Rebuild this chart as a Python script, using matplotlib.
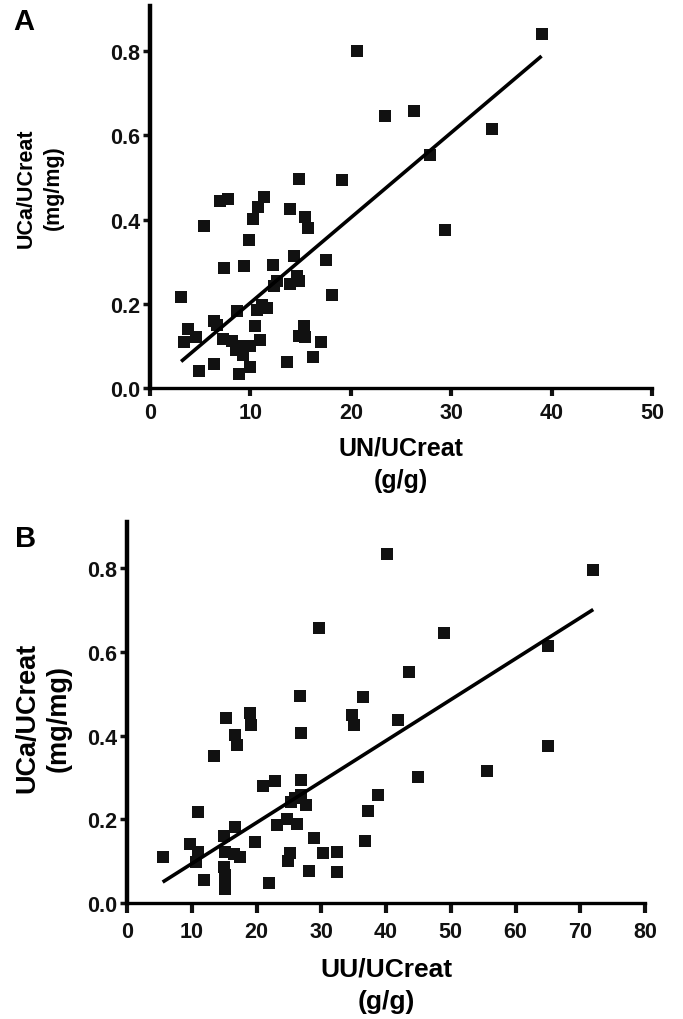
import matplotlib
matplotlib.use("Agg")
import matplotlib.pyplot as plt
from matplotlib.ticker import FormatStrFormatter, MultipleLocator

plt.rcParams['font.family'] = ['Liberation Sans', 'DejaVu Sans']
plt.rcParams['font.weight'] = 'bold'

# Panel A: UN/UCreat vs UCa/UCreat
un_ucreat = [39.0, 20.6, 23.4, 26.3, 34.1, 27.9, 29.4, 14.8, 19.1, 7.0,
             7.8, 11.4, 10.8, 10.3, 13.9, 15.4, 15.7, 5.4, 9.9, 7.4,
             9.4, 12.3, 14.3, 17.5, 12.4, 12.7, 13.9, 14.6, 14.8, 18.1,
             3.1, 8.7, 10.7, 11.7, 11.2, 6.4, 6.7, 10.5, 15.3, 3.8,
             4.6, 3.4, 7.3, 8.2, 14.8, 15.4, 17.0, 11.0, 10.0, 8.6,
             9.3, 8.9, 16.2, 13.6, 6.4, 4.9, 8.9, 10.0]
uca_a = [0.840, 0.800, 0.646, 0.657, 0.614, 0.554, 0.376, 0.497, 0.495, 0.445,
         0.449, 0.454, 0.430, 0.402, 0.424, 0.406, 0.380, 0.384, 0.351, 0.285,
         0.289, 0.293, 0.314, 0.303, 0.242, 0.253, 0.246, 0.265, 0.253, 0.220,
         0.216, 0.182, 0.186, 0.190, 0.198, 0.158, 0.150, 0.147, 0.147, 0.139,
         0.121, 0.109, 0.116, 0.111, 0.123, 0.121, 0.109, 0.113, 0.099, 0.091,
         0.079, 0.099, 0.073, 0.061, 0.057, 0.040, 0.034, 0.049]
fit_a = (0.0202, 0.0004)  # slope, intercept

# Panel B: UU/UCreat vs UCa/UCreat
uu_ucreat = [40.1, 72.0, 29.7, 49.0, 65.0, 43.5, 26.7, 36.4, 15.3, 19.0,
             19.2, 34.8, 35.1, 41.9, 26.8, 16.7, 17.0, 13.4, 65.0, 55.6,
             44.9, 26.8, 21.0, 22.9, 38.7, 26.0, 26.8, 27.6, 25.4, 37.2,
             10.9, 24.7, 23.1, 26.3, 16.6, 15.0, 28.9, 36.7, 19.8, 9.8,
             10.9, 15.2, 16.5, 17.5, 30.3, 32.5, 25.1, 5.5, 10.7, 24.8,
             14.9, 28.1, 32.5, 15.2, 11.9, 21.9, 15.2, 15.2]
uca_b = [0.834, 0.796, 0.656, 0.644, 0.613, 0.553, 0.495, 0.492, 0.443, 0.453,
         0.425, 0.449, 0.425, 0.437, 0.407, 0.401, 0.378, 0.352, 0.376, 0.316,
         0.301, 0.295, 0.279, 0.291, 0.258, 0.251, 0.257, 0.235, 0.241, 0.221,
         0.217, 0.200, 0.186, 0.188, 0.182, 0.160, 0.156, 0.149, 0.146, 0.141,
         0.122, 0.121, 0.117, 0.109, 0.119, 0.121, 0.119, 0.109, 0.097, 0.101,
         0.085, 0.077, 0.075, 0.066, 0.055, 0.048, 0.046, 0.034]
fit_b = (0.00979, -0.0038)

y_ticks = [0.0, 0.2, 0.4, 0.6, 0.8]

fig = plt.figure(figsize=(6.83, 10.2), dpi=100)
ax_a = fig.add_axes([0.2196, 0.6186, 0.735, 0.3745])
ax_b = fig.add_axes([0.186, 0.1137, 0.7584, 0.3735])


def draw_panel(ax, x, y, fit, xmax, xstep, ymax, xlabel, xlab_size, ylab_size,
               ylab_xy, ylab_ls, xlab_y, tick_len, tick_pad):
    ax.plot(x, y, 's', color='#111111', markersize=9, markeredgewidth=0)
    x0, x1 = min(x), max(x)
    ax.plot([x0, x1], [fit[0] * x0 + fit[1], fit[0] * x1 + fit[1]],
            color='black', lw=2.6, solid_capstyle='butt')

    ax.set_xlim(0, xmax)
    ax.set_ylim(0, ymax)
    ax.xaxis.set_major_locator(MultipleLocator(xstep))
    ax.set_yticks(y_ticks)
    ax.yaxis.set_major_formatter(FormatStrFormatter('%.1f'))

    for side in ['top', 'right']:
        ax.spines[side].set_visible(False)
    ax.spines['left'].set_linewidth(3.2)
    ax.spines['bottom'].set_linewidth(2.4)

    ax.tick_params(axis='y', direction='out', length=5, width=2.5, pad=2,
                   labelsize=15.5, colors='#111111')
    ax.tick_params(axis='x', direction='out', length=tick_len, width=3,
                   pad=tick_pad, labelsize=15.5, colors='#111111')
    for lab in ax.get_xticklabels() + ax.get_yticklabels():
        lab.set_fontweight('bold')

    ax.set_xlabel(xlabel + '\n(g/g)', fontsize=xlab_size, fontweight='bold',
                  linespacing=1.45)
    ax.xaxis.set_label_coords(0.5, xlab_y)
    ax.xaxis.label.set_verticalalignment('top')
    ax.set_ylabel('UCa/UCreat\n(mg/mg)', fontsize=ylab_size, fontweight='bold',
                  linespacing=ylab_ls)
    ax.yaxis.set_label_coords(*ylab_xy)
    ax.yaxis.label.set_verticalalignment('center')


draw_panel(ax_a, un_ucreat, uca_a, fit_a, 50, 10, 0.907, 'UN/UCreat',
           18, 15.5, (-0.219, 0.526), 1.4, -0.125, 6, 4)
draw_panel(ax_b, uu_ucreat, uca_b, fit_b, 80, 10, 0.91, 'UU/UCreat',
           19, 19.5, (-0.162, 0.488), 1.3, -0.14, 7, 6)

fig.text(24 / 683, 1 - 22 / 1020, 'A', fontsize=21, fontweight='bold',
         ha='center', va='center')
fig.text(26 / 683, 1 - 539 / 1020, 'B', fontsize=21, fontweight='bold',
         ha='center', va='center')

fig.savefig('out.png', dpi=100)
